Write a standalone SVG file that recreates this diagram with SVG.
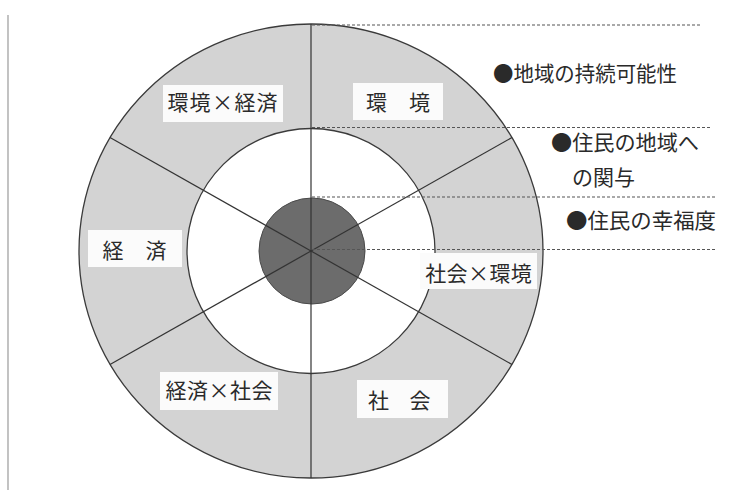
<svg xmlns="http://www.w3.org/2000/svg" width="750" height="490" viewBox="0 0 750 490">
<style>
.ring{fill:#d3d3d3;stroke:#3a3a3a;stroke-width:1.3}
.mid{fill:#ffffff;stroke:#3a3a3a;stroke-width:1.3}
.core{fill:#6c6c6c;stroke:#4a4a4a;stroke-width:1}
.ray{stroke:#333;stroke-width:1.2;fill:none}
.dash{stroke:#555;stroke-width:1.1;stroke-dasharray:3 2;fill:none}
.box{fill:#fbfbfb}
.lbl{font-family:"Noto Sans CJK JP","Noto Sans CJK SC",sans-serif;font-size:21px;fill:#2a2a2a;text-anchor:middle}
.note{font-family:"Noto Sans CJK JP","Noto Sans CJK SC",sans-serif;font-size:21px;fill:#2a2a2a}
</style>
<rect width="750" height="490" fill="#ffffff"/>
<line x1="8" y1="15" x2="8" y2="490" stroke="#9a9a9a" stroke-width="1.2"/>
<g id="outer-ring"><ellipse class="ring" cx="311" cy="251" rx="232" ry="227"/></g>
<g id="middle-ring"><ellipse class="mid" cx="311" cy="251" rx="124" ry="122.5"/></g>
<g id="core"><circle class="core" cx="312" cy="251" r="53"/></g>
<g id="connectors">
<line class="ray" x1="311" y1="24" x2="311" y2="478"/>
<line class="ray" x1="311" y1="251" x2="110" y2="137.5"/>
<line class="ray" x1="311" y1="251" x2="110" y2="364.5"/>
<line class="ray" x1="311" y1="251" x2="512" y2="137.5"/>
<line class="ray" x1="311" y1="251" x2="512" y2="364.5"/>
<line class="dash" x1="312" y1="25" x2="702" y2="25"/>
<line class="dash" x1="312" y1="127.5" x2="710" y2="127.5"/>
<line class="dash" x1="312" y1="197" x2="715" y2="197"/>
<line class="dash" x1="312" y1="249.5" x2="715" y2="249.5"/>
</g>
<g id="env-econ"><rect class="box" x="163" y="85" width="120" height="37"/><text class="lbl" x="178 200 222.5 245 267" y="110">環境×経済</text></g>
<g id="env"><rect class="box" x="353" y="83" width="90" height="37"/><text class="lbl" x="376.5 419.5" y="110">環境</text></g>
<g id="econ"><rect class="box" x="88" y="230" width="94" height="37"/><text class="lbl" x="113 156" y="258">経済</text></g>
<g id="econ-soc"><rect class="box" x="160" y="372" width="118" height="38"/><text class="lbl" x="176 197.5 219 240.5 262" y="398">経済×社会</text></g>
<g id="soc"><rect class="box" x="357" y="380" width="91" height="38"/><text class="lbl" x="378.5 420" y="408">社会</text></g>
<g id="soc-env"><rect class="box" x="420" y="253" width="117" height="36"/><text class="lbl" x="435.7 457 478.5 500 521.3" y="281">社会×環境</text></g>
<g id="sustain"><text class="note" x="493" y="81" textLength="184" lengthAdjust="spacingAndGlyphs">●地域の持続可能性</text></g>
<g id="involve"><text class="note" x="551" y="150" textLength="148" lengthAdjust="spacingAndGlyphs">●住民の地域へ</text><text class="note" x="572" y="185">の関与</text></g>
<g id="wellbeing"><text class="note" x="566" y="228" textLength="150" lengthAdjust="spacingAndGlyphs">●住民の幸福度</text></g>
</svg>
